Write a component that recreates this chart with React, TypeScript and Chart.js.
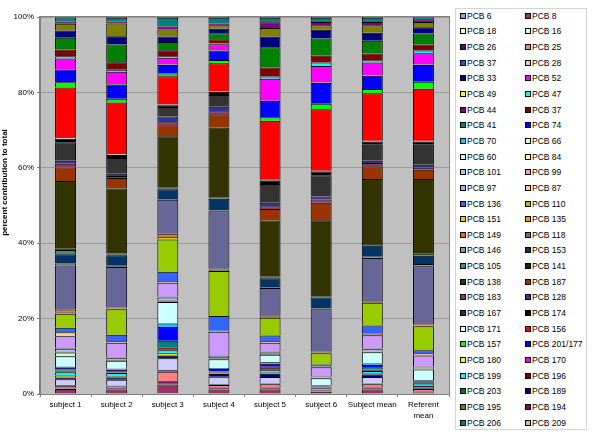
import React, { useEffect, useRef } from 'react';
import { Chart, registerables } from 'chart.js';

Chart.register(...registerables);

const categories: (string | string[])[] = [
  'subject 1', 'subject 2', 'subject 3', 'subject 4', 'subject 5', 'subject 6', 'Subject mean', ['Referent', 'mean'],
];

const congeners = [
  'PCB 6', 'PCB 8', 'PCB 18', 'PCB 16', 'PCB 26', 'PCB 25', 'PCB 37', 'PCB 28', 'PCB 33', 'PCB 52',
  'PCB 49', 'PCB 47', 'PCB 44', 'PCB 37', 'PCB 41', 'PCB 74', 'PCB 70', 'PCB 66', 'PCB 60', 'PCB 84',
  'PCB 101', 'PCB 99', 'PCB 97', 'PCB 87', 'PCB 136', 'PCB 110', 'PCB 151', 'PCB 135', 'PCB 149', 'PCB 118',
  'PCB 146', 'PCB 153', 'PCB 105', 'PCB 141', 'PCB 138', 'PCB 187', 'PCB 183', 'PCB 128', 'PCB 167', 'PCB 174',
  'PCB 171', 'PCB 156', 'PCB 157', 'PCB 201/177', 'PCB 180', 'PCB 170', 'PCB 199', 'PCB 196', 'PCB 203', 'PCB 189',
  'PCB 195', 'PCB 194', 'PCB 206', 'PCB 209',
];

const colors = [
  '#9999FF', '#993366', '#FFFFCC', '#CCFFFF', '#660066', '#FF8080', '#0066CC', '#CCCCFF', '#000080', '#FF00FF',
  '#FFFF00', '#00FFFF', '#800080', '#800000', '#008080', '#0000FF', '#00CCFF', '#CCFFFF', '#CCFFCC', '#FFFF99',
  '#99CCFF', '#FF99CC', '#CC99FF', '#FFCC99', '#3366FF', '#99CC00', '#FFCC00', '#FF9900', '#FF6600', '#666699',
  '#969696', '#003366', '#339966', '#003300', '#333300', '#993300', '#993366', '#333399', '#333333', '#000000',
  '#FFFFFF', '#FF0000', '#00FF00', '#0000FF', '#FFFF00', '#FF00FF', '#00FFFF', '#800000', '#008000', '#000080',
  '#808000', '#800080', '#008080', '#C0C0C0',
];

// percent contribution of each congener (same order as `congeners`)
const subject1 = [
  0.1, 1.2, 0.1, 0.1, 0.2, 0.4, 0.2, 1.6, 0.4, 0.15,
  0.45, 0.9, 0.2, 0.2, 0.3, 0.4, 0.3, 2.8, 1.0, 0.2,
  0.8, 0.3, 3.0, 1.1, 1.2, 3.7, 0.3, 0.2, 0.6, 11.7,
  0.5, 2.5, 1.1, 0.3, 18.0, 3.6, 1.0, 0.8, 4.9, 0.9,
  0.4, 13.2, 1.4, 3.4, 0.1, 2.8, 0.6, 1.8, 3.1, 1.9,
  1.8, 0.6, 1.1, 0.1,
];
const subject2 = [
  0.1, 1.1, 0.1, 0.1, 0.2, 0.4, 0.2, 1.6, 0.6, 0.1,
  0.2, 0.9, 0.1, 0.1, 0.1, 0.5, 0.3, 2.1, 0.2, 0.1,
  0.4, 0.2, 3.9, 0.4, 1.7, 6.8, 0.2, 0.2, 0.2, 10.6,
  0.3, 2.8, 0.2, 0.3, 17.2, 2.8, 0.5, 0.6, 4.2, 0.8,
  0.2, 13.7, 1.0, 3.8, 0.1, 3.3, 0.5, 2.0, 4.7, 2.2,
  3.4, 0.5, 1.0, 0.2,
];
const subject3 = [
  0.2, 2.3, 0.1, 0.1, 0.7, 2.5, 0.4, 3.2, 0.7, 0.1,
  0.5, 0.8, 0.3, 0.4, 1.8, 3.7, 0.9, 5.7, 0.2, 0.2,
  0.8, 0.2, 3.7, 0.5, 2.4, 8.6, 0.6, 0.4, 0.5, 9.0,
  0.2, 2.6, 0.2, 0.2, 13.7, 2.9, 0.8, 1.5, 2.5, 0.5,
  0.2, 7.5, 0.7, 2.3, 0.1, 1.8, 0.4, 1.6, 2.2, 1.4,
  1.9, 0.8, 2.3, 0.2,
];
const subject4 = [
  0.1, 1.1, 0.1, 0.1, 0.3, 0.7, 0.2, 2.0, 0.7, 0.1,
  0.1, 0.2, 0.1, 0.1, 0.1, 0.6, 0.3, 2.3, 0.2, 0.4,
  0.3, 0.2, 6.2, 0.3, 3.9, 11.9, 0.2, 0.2, 0.3, 15.2,
  0.2, 3.1, 0.2, 0.2, 18.5, 3.5, 0.8, 1.2, 3.1, 0.9,
  0.1, 7.4, 0.9, 2.5, 0.1, 1.6, 0.2, 1.1, 1.6, 1.2,
  0.9, 0.5, 1.5, 0.2,
];
const subject5 = [
  0.1, 1.1, 0.1, 0.1, 0.3, 0.9, 0.2, 1.7, 0.9, 0.1,
  0.2, 0.7, 0.2, 0.3, 0.3, 0.8, 0.4, 2.0, 0.2, 0.2,
  0.3, 0.2, 2.3, 0.4, 1.5, 4.7, 0.2, 0.2, 0.3, 7.2,
  0.2, 2.4, 0.2, 0.2, 14.9, 3.1, 0.7, 0.9, 5.0, 0.9,
  0.2, 15.7, 0.9, 4.3, 0.1, 5.8, 0.6, 2.4, 5.4, 2.8,
  2.3, 1.5, 1.2, 0.2,
];
const subject6 = [
  0.1, 0.4, 0.1, 0.1, 0.2, 0.2, 0.1, 0.2, 0.2, 0.1,
  0.1, 0.1, 0.1, 0.1, 0.1, 0.1, 0.1, 1.8, 0.1, 0.1,
  0.2, 0.1, 2.4, 0.2, 0.5, 3.0, 0.1, 0.1, 0.2, 11.3,
  0.2, 2.9, 0.2, 0.2, 20.1, 4.6, 0.9, 0.8, 5.6, 1.0,
  0.2, 16.3, 1.5, 5.5, 0.1, 4.4, 0.9, 1.9, 4.5, 2.3,
  1.2, 0.9, 1.1, 0.2,
];
const subjectMean = [
  0.1, 1.1, 0.1, 0.1, 0.3, 0.9, 0.2, 1.7, 0.7, 0.1,
  0.2, 0.6, 0.2, 0.2, 0.6, 0.6, 0.4, 3.0, 0.2, 0.2,
  0.4, 0.2, 3.5, 0.4, 2.2, 6.0, 0.2, 0.2, 0.1, 11.4,
  0.3, 2.9, 0.2, 0.3, 17.2, 3.4, 0.9, 0.6, 4.2, 0.9,
  0.2, 12.6, 1.1, 3.5, 0.1, 3.4, 0.6, 1.8, 3.4, 2.1,
  2.0, 0.9, 1.1, 0.2,
];
const referentMean = [
  0.1, 0.3, 0.1, 0.1, 0.1, 0.6, 0.2, 0.3, 0.3, 0.1,
  0.1, 0.4, 0.2, 0.2, 0.2, 0.2, 0.2, 2.8, 0.2, 0.2,
  0.2, 0.2, 2.9, 0.6, 0.8, 6.4, 0.2, 0.2, 0.2, 15.3,
  0.6, 2.2, 0.2, 0.3, 19.8, 2.5, 0.5, 0.8, 5.3, 0.9,
  0.2, 13.8, 1.8, 4.5, 0.1, 3.0, 0.7, 1.6, 2.9, 1.7,
  1.4, 0.7, 0.5, 0.1,
];

const yTickValues = [0, 20, 40, 60, 80, 100];
const yTitle = 'percent contribution to total';

const table = [subject1, subject2, subject3, subject4, subject5, subject6, subjectMean, referentMean];

const FONT = 'Arial, "Liberation Sans", sans-serif';

const plotDecor = {
  id: 'plotDecor',
  beforeDraw(chart: any) {
    const { ctx, chartArea: a } = chart;
    ctx.save();
    ctx.fillStyle = '#C0C0C0';
    ctx.fillRect(a.left, a.top, a.right - a.left, a.bottom - a.top);
    ctx.restore();
  },
  beforeDatasetsDraw(chart: any) {
    const { ctx, chartArea: a } = chart;
    ctx.save();
    ctx.strokeStyle = '#808080';
    ctx.lineWidth = 1;
    ctx.strokeRect(Math.round(a.left) - 0.5, Math.round(a.top) - 0.5, Math.round(a.right - a.left) + 1, Math.round(a.bottom - a.top) + 1);
    ctx.restore();
  },
  afterDraw(chart: any) {
    const { ctx } = chart;
    ctx.save();
    ctx.translate(5, 182.5);
    ctx.rotate(-Math.PI / 2);
    ctx.font = `bold 8px ${FONT}`;
    ctx.fillStyle = '#000';
    ctx.textAlign = 'center';
    ctx.textBaseline = 'middle';
    ctx.fillText(yTitle, 0, 0);
    ctx.restore();
  },
};

function ChartView() {
  const ref = useRef<HTMLCanvasElement | null>(null);
  useEffect(() => {
    if (!ref.current) return;
    const totals = table.map((row) => row.reduce((s, v) => s + v, 0));
    const datasets = congeners.map((name, j) => ({
      label: name,
      data: table.map((row, i) => (row[j] / totals[i]) * 100),
      backgroundColor: colors[j],
      borderColor: '#000000',
      borderWidth: 1,
      barPercentage: 0.41,
      categoryPercentage: 1,
    }));
    const chart = new Chart(ref.current, {
      type: 'bar',
      data: { labels: categories as any, datasets },
      plugins: [plotDecor],
      options: {
        animation: false,
        responsive: false,
        devicePixelRatio: 1,
        layout: { padding: { top: 17, right: 151, bottom: 0, left: 0 } },
        plugins: { legend: { display: false }, tooltip: { enabled: false } },
        scales: {
          x: {
            stacked: true,
            afterFit: (s: any) => { s.height = 48; },
            grid: { display: true, drawOnChartArea: false, offset: true, tickLength: 3, tickColor: '#808080', color: '#808080' },
            border: { display: true, color: '#808080' },
            ticks: { color: '#000', font: { family: FONT, size: 8, lineHeight: '10.3px' as any }, padding: 3, maxRotation: 0, autoSkip: false },
          },
          y: {
            stacked: true,
            min: 0,
            max: 100,
            afterFit: (s: any) => { s.width = 40; },
            afterBuildTicks: (s: any) => { s.ticks = yTickValues.map((v) => ({ value: v })); },
            grid: { color: '#999999', tickLength: 3, tickColor: '#808080' },
            border: { display: true, color: '#808080' },
            ticks: { color: '#000', font: { family: FONT, size: 8 }, padding: 3, callback: (v: any) => `${v}%` },
          },
        },
      },
    });
    return () => chart.destroy();
  }, []);
  return <canvas ref={ref} width={600} height={442} style={{ position: 'absolute', left: 0, top: 0, width: 600, height: 442 }} />;
}

function Legend() {
  return (
    <div
      style={{
        position: 'absolute', left: 455, top: 8, width: 132, height: 422, boxSizing: 'border-box',
        border: '1px solid #D4D4D4', background: '#fff', fontFamily: FONT, fontSize: 8.5, color: '#000',
      }}
    >
      {congeners.map((name, i) => {
        const row = Math.floor(i / 2);
        const col = i % 2;
        const cy = 6.7 + row * 15.65;
        const mx = col === 0 ? 4 : 69;
        const tx = col === 0 ? 11 : 76;
        return (
          <React.Fragment key={i}>
            <div style={{ position: 'absolute', left: mx, top: cy - 3, width: 6, height: 6, boxSizing: 'border-box', border: '1px solid #000', background: colors[i] }} />
            <div style={{ position: 'absolute', left: tx, top: cy - 6, height: 12, lineHeight: '12px', whiteSpace: 'nowrap' }}>{name}</div>
          </React.Fragment>
        );
      })}
    </div>
  );
}

export default function App() {
  return (
    <div style={{ position: 'fixed', left: 0, top: 0, width: 600, height: 442, background: '#fff', overflow: 'hidden' }}>
      <ChartView />
      <Legend />
    </div>
  );
}
